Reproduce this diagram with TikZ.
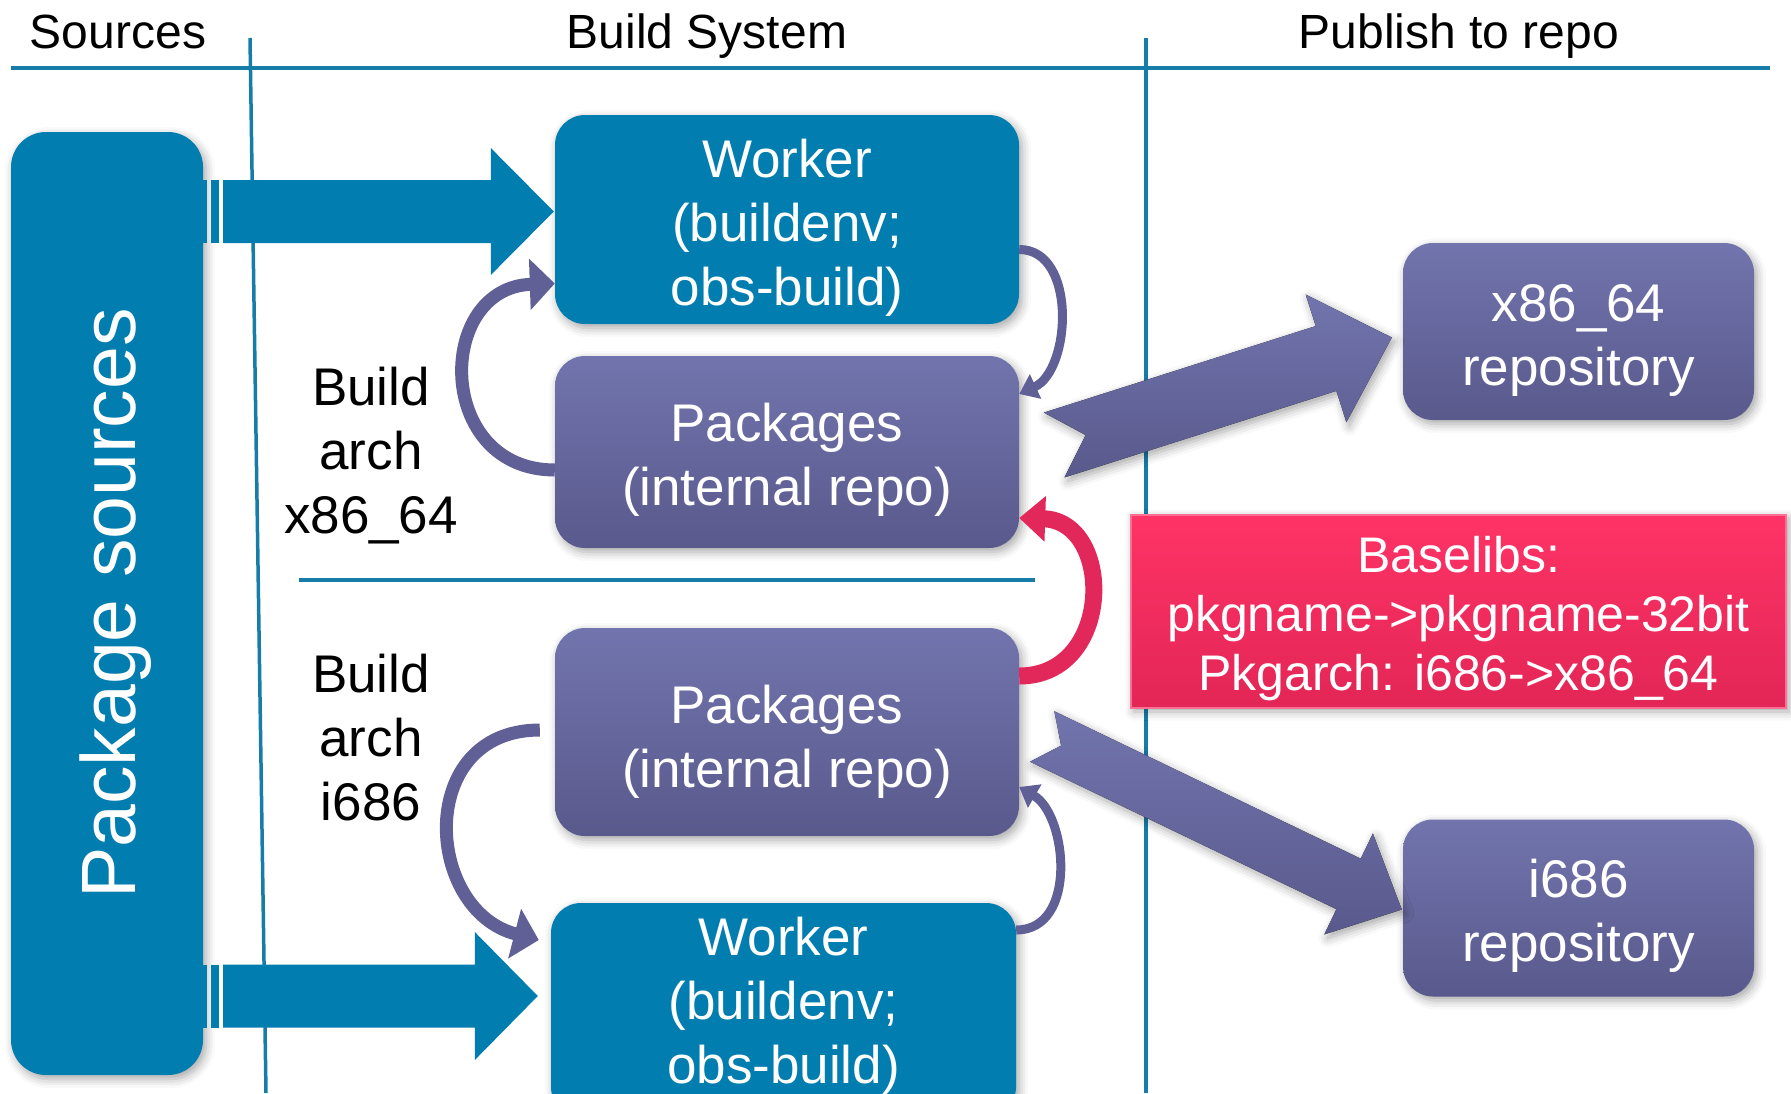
\documentclass[tikz,border=0pt]{standalone}
\usepackage{fontspec}
\setmainfont{Liberation Sans}
\usetikzlibrary{arrows.meta,calc,positioning,shadows.blur}
\definecolor{srcblue}{RGB}{2,125,175}
\definecolor{lineblue}{RGB}{22,124,168}
\definecolor{pkglight}{RGB}{114,116,173}
\definecolor{pkgdark}{RGB}{89,89,140}
\definecolor{libslight}{RGB}{255,51,102}
\definecolor{libsdark}{RGB}{226,38,86}
\definecolor{loopcol}{RGB}{96,96,150}
\definecolor{libarrow}{RGB}{226,40,90}
\newcommand\hdrfnt{\fontsize{48}{58}\selectfont}
\newcommand\bodyfnt{\fontsize{53}{64}\selectfont}
\newcommand\libsfnt{\fontsize{50}{59}\selectfont}
\newcommand\srcfnt{\fontsize{77}{90}\selectfont}
\newcommand\blockarrow[7]{%
  \path (#2); \pgfgetlastxy{\arax}{\aray}%
  \path (#3); \pgfgetlastxy{\arbx}{\arby}%
  \pgfmathsetmacro\arang{atan2((\arby)-(\aray),(\arbx)-(\arax))}%
  \pgfmathsetmacro\arlen{veclen((\arbx)-(\arax),(\arby)-(\aray))}%
  \begin{scope}[shift={(\arax,\aray)},rotate=\arang]
    \fill[#1] (0pt,#4pt) -- ({\arlen pt-#6pt},#4pt) -- ({\arlen pt-#6pt},#5pt)
      -- (\arlen pt,0pt) -- ({\arlen pt-#6pt},-#5pt) -- ({\arlen pt-#6pt},-#4pt)
      -- (0pt,-#4pt) -- (#7pt,0pt) -- cycle;
  \end{scope}}

\begin{document}
\begin{tikzpicture}[x=1pt,y=-1pt,
    boxshadow/.style={blur shadow={shadow xshift=3pt,shadow yshift=-4pt,shadow blur radius=9pt,shadow opacity=35}},
    srcstyle/.style={fill=srcblue,rounded corners=35,boxshadow},
    boxtext/.style={text=white,align=center,font=\bodyfnt},
    workbox/.style={fill=srcblue,rounded corners=30,minimum width=464,minimum height=209,boxshadow},
    pkgbox/.style={top color=pkglight,bottom color=pkgdark,rounded corners=30,minimum width=464,
        minimum height=192,boxshadow},
    repobox/.style={pkgbox,minimum width=351,minimum height=177},
    libsbox/.style={top color=libslight,bottom color=libsdark,draw=libslight!70!white,line width=2,
        minimum width=655,minimum height=193,boxshadow},
    hdr/.style={font=\hdrfnt,anchor=base},
    arch/.style={font=\bodyfnt,align=center},
    rule/.style={draw=lineblue,line width=4.5},
    loopwide/.style={draw=loopcol,line width=13,-{Triangle[width=50pt,length=25pt]}},
    loopthin/.style={draw=loopcol,line width=9,-{Triangle[width=26pt,length=18pt]}},
    libsloop/.style={draw=libarrow,line width=17,-{Triangle[width=44pt,length=26pt]}},
    fatpurple/.style={top color=pkglight,bottom color=pkgdark,boxshadow}]
    \useasboundingbox (0,0) rectangle (1791,1093);
    \clip (0,0) rectangle (1791,1093);
    \draw[rule] (11,68) -- (1770,68);
    \draw[rule,line width=3.5] (250,38) -- (266,1093);
    \draw[rule,line width=3.5] (1146,38) -- (1146,1093);
    \draw[rule] (299,580) -- (1035,580);

    \node (srchdr) [hdr] at (118,48) {Sources};
    \node (buildhdr) [hdr] at (707,48) {Build System};
    \node (pubhdr) [hdr] at (1459,48) {Publish to repo};

    \node (srcbox) [srcstyle,minimum width=192,minimum height=943] at (107,603.5) {};
    \node (srclabel) [rotate=90,text=white,font=\srcfnt] at (116,603.5) {Package sources};
    \node (worktop) [workbox,label={[boxtext,yshift=-8]center:Worker\\(buildenv;\\obs-build)}] at (787,219.5) {};
    \node (pkgtop) [pkgbox,label={[boxtext,yshift=-8]center:Packages\\(internal repo)}] at (787,452) {};
    \node (pkgbot) [pkgbox,minimum height=208,label={[boxtext,yshift=-10]center:Packages\\(internal repo)}] at (787,732) {};
    \node (workbot) [workbox,minimum width=465,minimum height=214,
        label={[boxtext,yshift=4]center:Worker\\(buildenv;\\obs-build)}] at (783.5,1010) {};
    \node (x86repo) [repobox,label={[boxtext,yshift=-9]center:x86\_64\\repository}] at (1578.5,331.5) {};
    \node (i686repo) [repobox,label={[boxtext,yshift=-8]center:i686\\repository}] at (1578.5,908) {};
    \node (baselibs) [libsbox,label={[boxtext,font=\libsfnt,yshift=-8]center:Baselibs:\\pkgname->pkgname-32bit\\Pkgarch: i686->x86\_64}]
        at (1458.5,611) {};
    \node (archx86) [arch] at (371,456) {Build\\arch\\x86\_64};
    \node (archi686) [arch] at (371,738) {Build\\arch\\i686};

    \fill[srcblue] ($(srcbox.east |- worktop.west)+(-3,-39.5)$) rectangle +(7,63);
    \fill[srcblue] ($(srcbox.east |- worktop.west)+(8,-39.5)$) rectangle +(8,63);
    \blockarrow{srcblue}{$(srcbox.east |- worktop.west)+(20,-8)$}{$(worktop.west)+(-1,-8)$}{31.5}{63.5}{63}{0}
    \fill[srcblue] ($(srcbox.east |- workbot.west)+(-3,-45.5)$) rectangle +(7,63);
    \fill[srcblue] ($(srcbox.east |- workbot.west)+(8,-45.5)$) rectangle +(8,63);
    \blockarrow{srcblue}{$(srcbox.east |- workbot.west)+(20,-14)$}{$(workbot.west)+(-13,-14)$}{31.5}{64}{63}{0}

    \blockarrow{fatpurple}{$(pkgtop.east)+(35,-7)$}{$(x86repo.west)+(-11,6)$}{34}{67}{69}{33}
    \blockarrow{fatpurple}{$(pkgbot.east)+(23,4.5)$}{$(i686repo.west)+(-1,1.5)$}{28}{56}{59}{21}

    \draw[loopwide] ($(pkgtop.west)+(0,18)$) .. controls +(-120,0) and +(-120,4) .. ($(worktop.west)+(0,64)$);
    \draw[loopthin] ($(worktop.east)+(0,30)$) .. controls +(58,0) and +(52,-24) .. ($(pkgtop.east)+(0,-58)$);
    \draw[libsloop] ($(pkgbot.east)+(0,-56)$) .. controls +(95,0) and +(95,3) .. ($(pkgtop.east)+(0,66)$);
    \draw[loopwide] ($(pkgbot.west)+(-15,-2)$) .. controls +(-125,0) and +(-115,-30) .. ($(workbot.west)+(-12,-70)$);
    \draw[loopthin] ($(workbot.east)+(0,-80)$) .. controls +(62,0) and +(48,28) .. ($(pkgbot.east)+(0,55)$);
\end{tikzpicture}
\end{document}
